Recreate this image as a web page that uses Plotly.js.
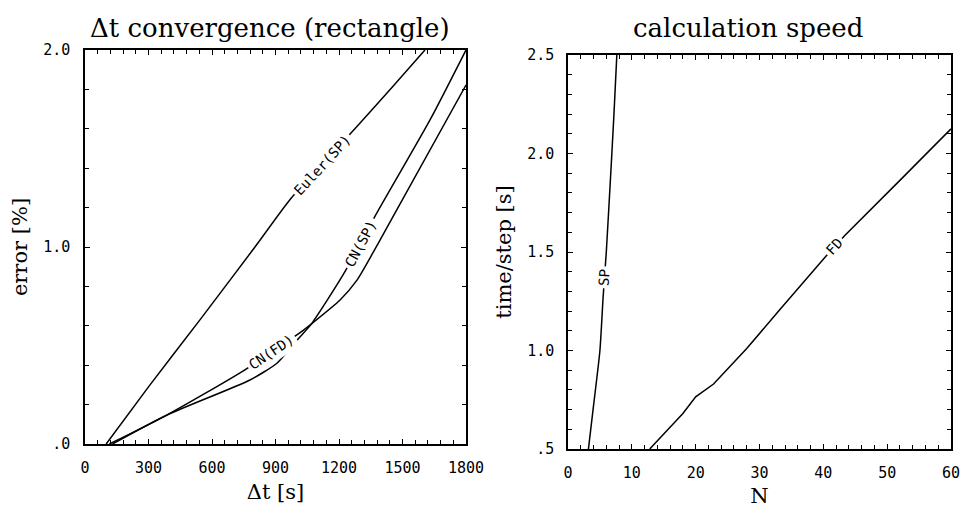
<!DOCTYPE html>
<html>
<head>
<meta charset="utf-8">
<script src="https://cdn.plot.ly/plotly-3.0.1.min.js"></script>
<style>html,body{margin:0;padding:0;background:#fff;}#chart{width:962px;height:508px;}</style>
</head>
<body>
<div id="chart"></div>
<script>
// ---- Left panel: Δt convergence (rectangle) ----
const eulerSpX = [100, 300, 543, 803, 968, 1100, 1275, 1450, 1606];
const eulerSpY = [0, 0.29, 0.63, 1.0, 1.24, 1.395, 1.60, 1.81, 2.0];
const cnSpX = [130, 387, 779, 907, 1000, 1070, 1219, 1379, 1630, 1800];
const cnSpY = [0, 0.147, 0.325, 0.41, 0.525, 0.61, 0.858, 1.173, 1.645, 2.0];
const cnFdX = [115, 387, 746, 1016, 1070, 1205, 1285, 1360, 1427, 1800];
const cnFdY = [0, 0.147, 0.37, 0.565, 0.61, 0.731, 0.832, 0.970, 1.10, 1.822];

// ---- Right panel: calculation speed ----
const spN = [3.2, 4.0, 5.0, 5.5, 6.0, 6.7, 7.2, 7.65];
const spT = [0.5, 0.72, 1.0, 1.27, 1.50, 1.90, 2.2, 2.5];
const fdN = [12.8, 16, 18, 20, 22.8, 25.4, 28, 33, 40.3, 43.4, 47.3, 52.5, 60];
const fdT = [0.5, 0.61, 0.68, 0.765, 0.83, 0.92, 1.01, 1.20, 1.475, 1.585, 1.71, 1.88, 2.125];

// ---- Tick labels ----
const leftXTicks = [0, 300, 600, 900, 1200, 1500, 1800];
const leftXTickText = ['0', '300', '600', '900', '1200', '1500', '1800'];
const leftYTicks = [0, 1, 2];
const leftYTickText = ['.0', '1.0', '2.0'];
const rightXTicks = [0, 10, 20, 30, 40, 50, 60];
const rightXTickText = ['0', '10', '20', '30', '40', '50', '60'];
const rightYTicks = [0.5, 1.0, 1.5, 2.0, 2.5];
const rightYTickText = ['.5', '1.0', '1.5', '2.0', '2.5'];

// ---- Texts ----
const leftTitle = 'Δt convergence (rectangle)';
const rightTitle = 'calculation speed';
const seriesNames = ['Euler(SP)', 'CN(SP)', 'CN(FD)', 'SP', 'FD'];

// ---------------------------------------------------------------
const W = 962, H = 508;
const dom = {
  x1: [85 / W, 466 / W], y1: [1 - 444 / H, 1 - 50 / H],
  x2: [568 / W, 951 / W], y2: [1 - 449 / H, 1 - 55 / H]
};
const range = { x1: [0, 1800], y1: [0, 2], x2: [0, 60], y2: [0.5, 2.5] };

function pxScale(xa, ya) {
  const wx = (dom[xa][1] - dom[xa][0]) * W / (range[xa][1] - range[xa][0]);
  const wy = (dom[ya][1] - dom[ya][0]) * H / (range[ya][1] - range[ya][0]);
  return [wx, wy];
}
function labelAt(xs, ys, x, xa, ya, text) {
  let i = 0;
  while (i < xs.length - 2 && xs[i + 1] < x) i++;
  const f = (x - xs[i]) / (xs[i + 1] - xs[i]);
  const y = ys[i] + f * (ys[i + 1] - ys[i]);
  const [wx, wy] = pxScale(xa, ya);
  const ang = Math.atan2((ys[i + 1] - ys[i]) * wy, (xs[i + 1] - xs[i]) * wx) * 180 / Math.PI;
  return {
    x: x, y: y, xref: xa === 'x1' ? 'x' : 'x2', yref: ya === 'y1' ? 'y' : 'y2',
    text: text, showarrow: false, textangle: -ang,
    bgcolor: '#ffffff', borderpad: 2,
    font: { family: 'DejaVu Sans Mono', size: 14, color: '#000' }
  };
}

const lineStyle = { color: '#000', width: 1.5, shape: 'spline', smoothing: 0.6 };
const traces = [
  { x: eulerSpX, y: eulerSpY, name: seriesNames[0], mode: 'lines', line: lineStyle, xaxis: 'x', yaxis: 'y' },
  { x: cnSpX, y: cnSpY, name: seriesNames[1], mode: 'lines', line: lineStyle, xaxis: 'x', yaxis: 'y' },
  { x: cnFdX, y: cnFdY, name: seriesNames[2], mode: 'lines', line: lineStyle, xaxis: 'x', yaxis: 'y' },
  { x: spN, y: spT, name: seriesNames[3], mode: 'lines', line: lineStyle, xaxis: 'x2', yaxis: 'y2' },
  { x: fdN, y: fdT, name: seriesNames[4], mode: 'lines', line: { color: '#000', width: 1.5 }, xaxis: 'x2', yaxis: 'y2' }
];

const tickFont = { family: 'DejaVu Sans Mono', size: 15, color: '#000' };
const titleFont = { family: 'DejaVu Serif', size: 21, color: '#000' };
function axis(extra) {
  return Object.assign({
    showgrid: false, zeroline: false, showline: true, linecolor: '#000', linewidth: 1.6,
    mirror: 'allticks', ticks: 'inside', ticklen: 5, tickwidth: 1, tickcolor: '#000',
    tickfont: tickFont, tickmode: 'array', fixedrange: true
  }, extra);
}
function minor(d, t0) {
  return { ticks: 'inside', ticklen: 4, tickwidth: 1, tickcolor: '#000', dtick: d, tick0: t0, showgrid: false };
}

const layout = {
  width: W, height: H,
  margin: { l: 0, r: 0, t: 0, b: 0 },
  paper_bgcolor: '#fff', plot_bgcolor: '#fff',
  showlegend: false,
  xaxis: axis({ domain: dom.x1, range: range.x1, tickvals: leftXTicks, ticktext: leftXTickText,
    minor: minor(60, 0), ticklabelstandoff: 9,
    title: { text: 'Δt [s]', font: titleFont, standoff: 9 }, anchor: 'y' }),
  yaxis: axis({ domain: dom.y1, range: range.y1, tickvals: leftYTicks, ticktext: leftYTickText,
    minor: minor(0.2, 0), ticklabelstandoff: 10,
    title: { text: 'error [%]', font: titleFont, standoff: 10 }, anchor: 'x' }),
  xaxis2: axis({ domain: dom.x2, range: range.x2, tickvals: rightXTicks, ticktext: rightXTickText,
    minor: minor(2, 0), ticklabelstandoff: 9,
    title: { text: 'N', font: titleFont, standoff: 9 }, anchor: 'y2' }),
  yaxis2: axis({ domain: dom.y2, range: range.y2, tickvals: rightYTicks, ticktext: rightYTickText,
    minor: minor(0.1, 0.5), ticklabelstandoff: 9,
    title: { text: 'time/step [s]', font: titleFont, standoff: 10 }, anchor: 'x2' }),
  annotations: [
    { text: leftTitle, xref: 'paper', yref: 'paper', x: 270 / W, y: 1 - 28 / H,
      xanchor: 'center', yanchor: 'middle', showarrow: false,
      font: { family: 'DejaVu Serif', size: 26, color: '#000' } },
    { text: rightTitle, xref: 'paper', yref: 'paper', x: 748 / W, y: 1 - 28 / H,
      xanchor: 'center', yanchor: 'middle', showarrow: false,
      font: { family: 'DejaVu Serif', size: 26, color: '#000' } },
    labelAt(eulerSpX, eulerSpY, 1120, 'x1', 'y1', seriesNames[0]),
    labelAt(cnSpX, cnSpY, 1300, 'x1', 'y1', seriesNames[1]),
    labelAt(cnFdX, cnFdY, 880, 'x1', 'y1', seriesNames[2]),
    labelAt(spN, spT, 5.72, 'x2', 'y2', seriesNames[3]),
    labelAt(fdN, fdT, 41.8, 'x2', 'y2', seriesNames[4])
  ]
};

Plotly.newPlot('chart', traces, layout, { displayModeBar: false, staticPlot: true });
</script>
</body>
</html>
